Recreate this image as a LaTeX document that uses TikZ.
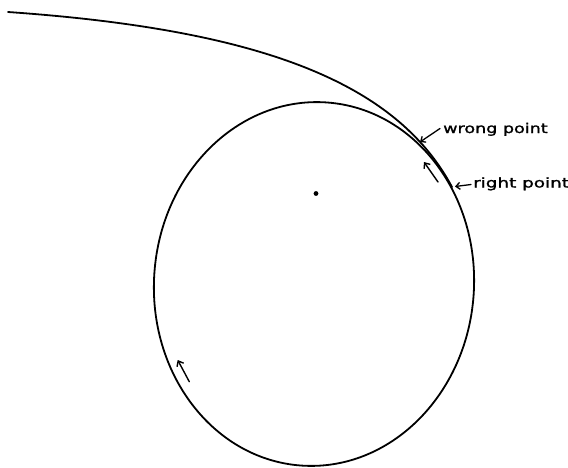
\documentclass[tikz,border=0pt]{standalone}
\usepackage{fontspec}
\newfontfamily\handfont[FakeBold=1.2]{DejaVu Sans}
\usetikzlibrary{arrows.meta}
\tikzset{
  orbitline/.style={line width=1.8pt, line cap=round},
  motionarrow/.style={line width=1.4pt, line cap=round, -{Straight Barb[length=4.5pt,width=7.5pt,line width=1.4pt]}},
  labelarrow/.style={line width=1.3pt, line cap=round, -{Straight Barb[length=4pt,width=7pt,line width=1.3pt]}},
  handlabel/.style={anchor=base west, inner sep=0pt, font=\handfont\fontsize{13.5}{15}\selectfont}
}
\begin{document}
\begin{tikzpicture}[x=1pt,y=-1pt]
\useasboundingbox (0,0) rectangle (568,467);
% orbit ellipse
\coordinate (c) at (314,284);
\draw[orbitline, rotate around={-4:(c)}] (c) ellipse [x radius=160pt, y radius=182pt];
% focus dot
\fill (316,193.5) circle (2.4pt);
% incoming trajectory
\coordinate (start) at (8,12);
\coordinate (rightpt) at (452,187);
\coordinate (wrongpt) at (420,142);
\draw[orbitline] (start) .. controls (258,29.5) and (395.6,81.4) .. (rightpt);
% motion arrows
\coordinate (a1t) at (438,182);
\coordinate (a1h) at (424,162);
\draw[motionarrow] (a1t) -- (a1h);
\coordinate (a2t) at (189.3,381.7);
\coordinate (a2h) at (177.7,360);
\draw[motionarrow] (a2t) -- (a2h);
% labels
\node[handlabel] (wronglbl) at (443,133) {\scalebox{1.3}[1]{wrong point}};
\node[handlabel] (rightlbl) at (473,187.5) {\scalebox{1.36}[1]{right point}};
\coordinate (wtail) at (440,128.5);
\coordinate (rtail) at (471,184.5);
\draw[labelarrow] (wtail) -- (wrongpt);
\draw[labelarrow] (rtail) -- (455,186.5);
\end{tikzpicture}
\end{document}
